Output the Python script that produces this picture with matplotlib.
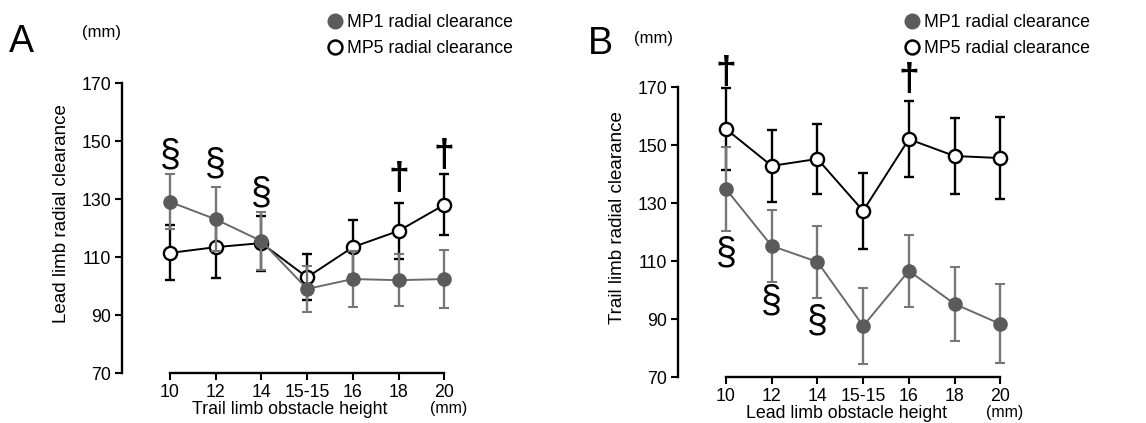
import matplotlib
matplotlib.use("Agg")
import matplotlib.pyplot as plt
from matplotlib.lines import Line2D

plt.rcParams['font.family'] = ['Liberation Sans', 'DejaVu Sans']

heights = ["10", "12", "14", "15-15", "16", "18", "20"]

# Panel A: lead limb clearance, trail limb obstacle height
mp1_a = [129, 123, 115.5, 99, 102.4, 102, 102.4]
mp1_a_err = [9.5, 11, 10, 8, 9.5, 9, 10]
mp5_a = [111.4, 113.4, 114.8, 103, 113.4, 119, 128]
mp5_a_err = [9.5, 10.5, 9.5, 8, 9.5, 9.7, 10.5]
marks_a = [(0, "§", 145), (1, "§", 142), (2, "§", 132), (5, "†", 137), (6, "†", 145)]

# Panel B: trail limb clearance, lead limb obstacle height
mp1_b = [134.8, 115.2, 109.7, 87.6, 106.6, 95.2, 88.3]
mp1_b_err = [14.5, 12.4, 12.4, 13, 12.5, 12.8, 13.6]
mp5_b = [155.5, 142.8, 145.2, 127.3, 152, 146.2, 145.5]
mp5_b_err = [14, 12.4, 12, 13, 13, 13, 14]
marks_b = [(0, "†", 175), (4, "†", 172.5), (0, "§", 112.5), (1, "§", 96), (2, "§", 89)]

GRAY = "#5b5b5b"
W, H = 1146, 423

fig = plt.figure(figsize=(W / 100, H / 100), dpi=100)


def panel(rect, mp1, mp1_err, mp5, mp5_err, marks, ylab, xlab, letter, lpos, mpos, legpos):
    ax = fig.add_axes(rect)
    x = range(len(heights))
    ax.errorbar(x, mp5, yerr=mp5_err, color="black", lw=1.4, elinewidth=1.7,
                capsize=3.5, capthick=1.5, marker="o", ms=9.5, mfc="white",
                mec="black", mew=1.7, zorder=2)
    ax.errorbar(x, mp1, yerr=mp1_err, color="#6a6a6a", lw=1.4, elinewidth=1.7,
                capsize=3.5, capthick=1.5, ecolor="#777777", marker="o", ms=9.5,
                mfc=GRAY, mec=GRAY, zorder=3)
    for i, s, yv in marks:
        ax.text(i, yv, s, ha="center", va="center", fontsize=27,
                fontweight="bold" if s == "†" else "normal",
                clip_on=False, zorder=5)
    ax.set_xlim(-1.05, 6.3)
    ax.set_ylim(70, 180)
    ax.set_yticks([70, 90, 110, 130, 150, 170])
    ax.set_xticks(list(x))
    ax.set_xticklabels(heights)
    for sp in ["top", "right"]:
        ax.spines[sp].set_visible(False)
    ax.spines["left"].set_bounds(70, 170)
    ax.spines["bottom"].set_bounds(0, 6)
    ax.spines["left"].set_linewidth(1.7)
    ax.spines["bottom"].set_linewidth(1.7)
    ax.tick_params(direction="out", length=5, width=1.5, labelsize=12.8, pad=3)
    ax.set_ylabel(ylab, fontsize=13.5, labelpad=8)
    ax.set_xlabel(xlab, fontsize=12.8, labelpad=0)
    ax.annotate("(mm)", xy=(6, 70), xytext=(3, -25.5), textcoords="offset points",
                ha="center", va="center", fontsize=11.5, annotation_clip=False)
    fig.text(lpos[0] / W, 1 - lpos[1] / H, letter, fontsize=27, ha="left", va="center")
    fig.text(mpos[0] / W, 1 - mpos[1] / H, "(mm)", fontsize=12, ha="left", va="center")
    handles = [
        Line2D([], [], ls="none", marker="o", ms=10.5, mfc=GRAY, mec=GRAY),
        Line2D([], [], ls="none", marker="o", ms=10, mfc="white", mec="black", mew=1.8),
    ]
    fig.legend(handles, ["MP1 radial clearance", "MP5 radial clearance"],
               loc="upper left", bbox_to_anchor=(legpos[0] / W, 1 - legpos[1] / H),
               frameon=False, fontsize=12.7, handlelength=0.8, handletextpad=0.25,
               labelspacing=0.5, borderaxespad=0, borderpad=0)
    return ax


panel([122 / W, 50 / H, 336 / W, 319 / H], mp1_a, mp1_a_err, mp5_a, mp5_a_err,
      marks_a, "Lead limb radial clearance", "Trail limb obstacle height", "A",
      (9, 42), (82, 33), (328, 14))
panel([678 / W, 46 / H, 336 / W, 319 / H], mp1_b, mp1_b_err, mp5_b, mp5_b_err,
      marks_b, "Trail limb radial clearance", "Lead limb obstacle height", "B",
      (588, 44), (634, 38), (905, 14))

fig.savefig("out.png", dpi=100)
